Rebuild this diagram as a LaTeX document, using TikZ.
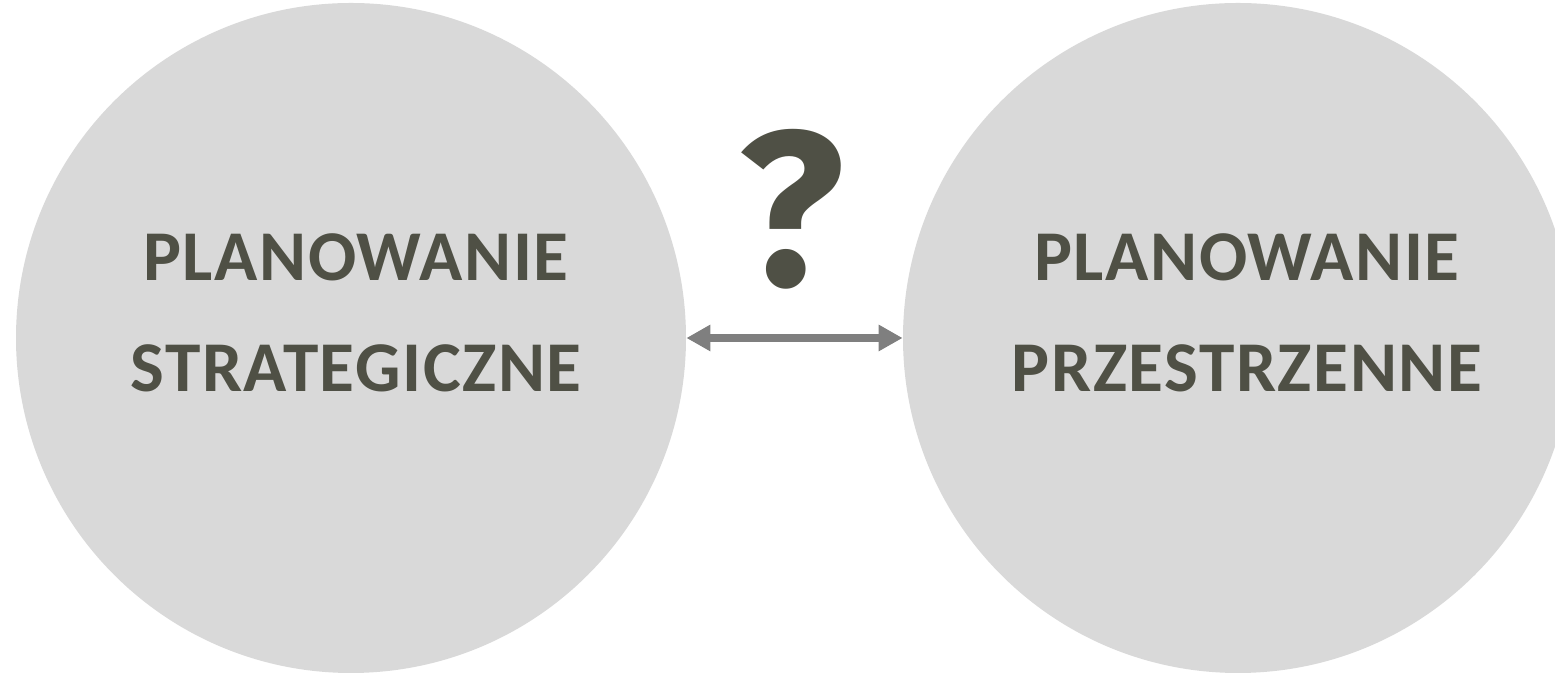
\documentclass[tikz,border=0pt]{standalone}
\usepackage{fontspec}
\setmainfont{Carlito}
\newfontfamily\queryfont{Fira Sans}
\usetikzlibrary{arrows.meta}
\definecolor{circlegray}{HTML}{D9D9D9}
\definecolor{textolive}{HTML}{4F5045}
\definecolor{arrowgray}{HTML}{7F7F7F}
\begin{document}
\begin{tikzpicture}[x=0.5pt, y=0.5pt,
  planet/.style={circle, fill=circlegray, minimum size=335pt, inner sep=0pt},
  title/.style={anchor=base, text=textolive, inner sep=0pt, font=\bfseries\fontsize{35.7}{40}\selectfont\addfontfeature{LetterSpace=2.2}},
  link/.style={{Triangle[length=12pt,width=12.5pt]}-{Triangle[length=12pt,width=12.5pt]}, line width=4pt, arrowgray}]
  \useasboundingbox (0,0) rectangle (1555,673);
  \clip (0,0) rectangle (1555,673);
  \node[planet] (strategic) at (351,335) {};
  \node[planet] (spatial) at (1238,335) {};
  \node[title] (strat1) at (356,392) {PLANOWANIE};
  \node[title] (strat2) at (356,281) {STRATEGICZNE};
  \node[title] (spat1) at (1247,392) {PLANOWANIE};
  \node[title] (spat2) at (1247,281) {PRZESTRZENNE};
  \draw[link] (strategic.east) -- (spatial.west);
  \node[title, font=\queryfont\bfseries\fontsize{110}{115}\selectfont] (query) at (791,387) {?};
\end{tikzpicture}
\end{document}
